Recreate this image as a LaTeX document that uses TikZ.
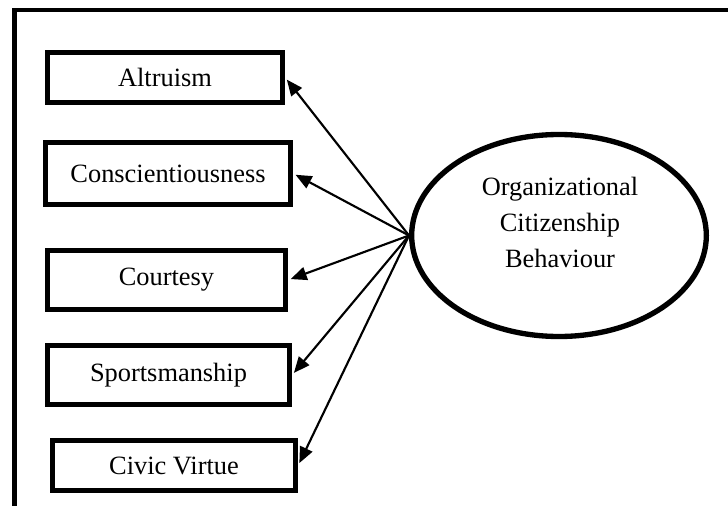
\documentclass[tikz,border=0pt]{standalone}
\usepackage{fontspec}
\setmainfont{Liberation Serif}
\usetikzlibrary{arrows.meta,shapes.geometric}

\begin{document}
\begin{tikzpicture}[x=0.75pt, y=-0.75pt,
  every node/.style={font=\fontsize{19.8}{27}\selectfont},
  factor/.style={rectangle, draw, line width=4pt, inner sep=0pt},
  construct/.style={ellipse, draw, line width=4pt, minimum width=221pt, minimum height=151.5pt, inner sep=0pt},
  link/.style={-{Triangle[length=12pt,width=10pt]}, line width=1.6pt, shorten >=2pt}]
  \useasboundingbox (0,0) rectangle (728,506);
  \draw[line width=3.5pt] (728,10) -- (14.5,10) -- (14.5,506);
  \node[factor, minimum width=176.25pt, minimum height=37.5pt] (alt) at (165,77.5) {Altruism};
  \node[factor, minimum width=183.75pt, minimum height=46.5pt] (con) at (168,173.5) {Conscientiousness};
  \node[factor, minimum width=178.5pt, minimum height=44.25pt] (cou) at (166.5,280) {Courtesy};
  \node[factor, minimum width=181.5pt, minimum height=44.25pt] (spo) at (168.5,375) {Sportsmanship};
  \node[factor, minimum width=182.25pt, minimum height=37.5pt] (civ) at (174,465.5) {Civic Virtue};
  \node[construct] (ocb) at (559,235.5) {};
  \node[align=center] (ocbtext) at (560,222) {Organizational\\Citizenship\\Behaviour};
  \draw[link] (ocb.west) -- (alt.east);
  \draw[link] (ocb.west) -- (con.east);
  \draw[link] (ocb.west) -- (cou.east);
  \draw[link] (ocb.west) -- (spo.east);
  \draw[link] (ocb.west) -- (civ.east);
\end{tikzpicture}
\end{document}
